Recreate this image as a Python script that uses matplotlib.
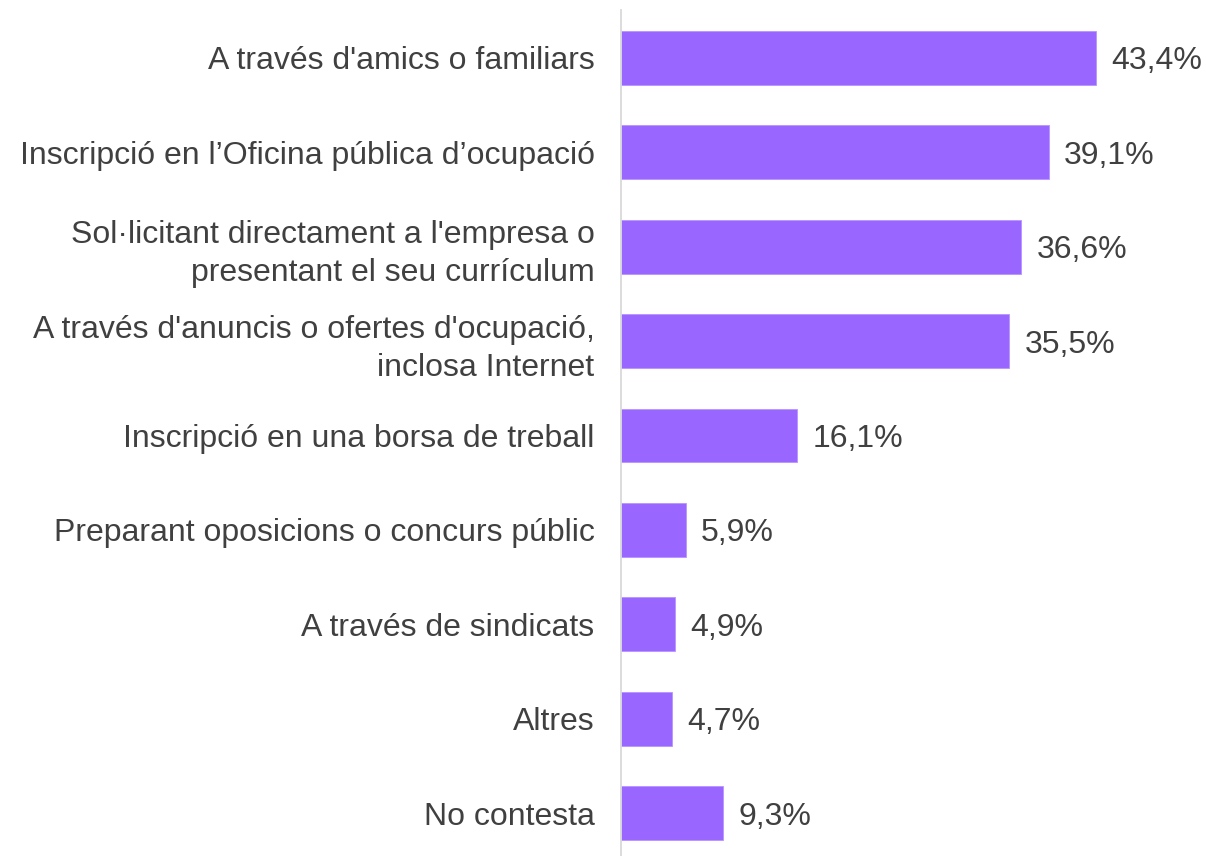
import matplotlib
matplotlib.use("Agg")
import matplotlib.pyplot as plt

categories = [
    "A través d'amics o familiars",
    "Inscripció en l\u2019Oficina pública d\u2019ocupació",
    "Sol·licitant directament a l'empresa o\npresentant el seu currículum",
    "A través d'anuncis o ofertes d'ocupació,\ninclosa Internet",
    "Inscripció en una borsa de treball",
    "Preparant oposicions o concurs públic",
    "A través de sindicats",
    "Altres",
    "No contesta",
]
values = [43.4, 39.1, 36.6, 35.5, 16.1, 5.9, 4.9, 4.7, 9.3]
value_labels = [f"{v:.1f}%".replace(".", ",") for v in values]

BAR_COLOR = "#9966FF"
TEXT_COLOR = "#404040"
FS = 23

plt.rcParams["font.family"] = ["Liberation Sans", "DejaVu Sans"]

fig = plt.figure(figsize=(12.06, 8.56), dpi=100)
ax = fig.add_axes([621 / 1206, 0.0, 1 - 621 / 1206, 1 - 10 / 856])

ypos = list(range(len(categories)))
ax.barh(ypos, values, height=0.57, color=BAR_COLOR, edgecolor="#b894ff", linewidth=0.6)

for y, v, lab in zip(ypos, values, value_labels):
    ax.text(v + 1.4, y, lab, va="center_baseline", ha="left", fontsize=FS, color=TEXT_COLOR)

ax.set_yticks(ypos)
ax.set_yticklabels(categories, fontsize=FS, color=TEXT_COLOR, linespacing=1.35)
ax.tick_params(axis="y", length=0, pad=19)
ax.set_xticks([])
ax.set_xlim(0, 53.5)
ax.set_ylim(8.455, -0.508)

for side in ("top", "right", "bottom"):
    ax.spines[side].set_visible(False)
ax.spines["left"].set_color("#d9d9d9")
ax.spines["left"].set_linewidth(1.3)

fig.savefig("out.png", dpi=100)
